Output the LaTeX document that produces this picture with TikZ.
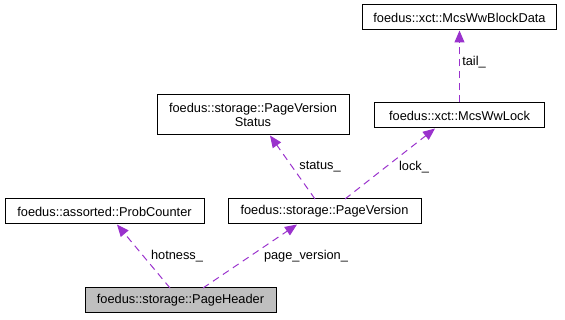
\documentclass[tikz,border=0pt]{standalone}
\usepackage{fontspec}
\setmainfont{Liberation Sans}
\usetikzlibrary{arrows.meta}
\definecolor{edgepurple}{HTML}{9A32CD}
\definecolor{focusgray}{HTML}{BFBFBF}
\begin{document}
\begin{tikzpicture}[x=1pt,y=-1pt,
  cls/.style={draw=black, line width=1pt, fill=white, rectangle, inner sep=0pt,
    font=\fontsize{12.8}{14.5}\selectfont, align=center},
  usage/.style={draw=edgepurple, line width=1pt, dash pattern=on 7pt off 5pt,
    -{Triangle[length=12pt,width=10pt,fill=edgepurple]}},
  lbl/.style={font=\fontsize{12.8}{14.5}\selectfont, inner sep=0pt}]
\useasboundingbox (0,0) rectangle (565,320);
% class boxes
\node[cls, fill=focusgray, minimum width=191pt, minimum height=25pt] (hdr) at (180.5,300.5) {foedus::storage::PageHeader};
\node[cls, minimum width=199pt, minimum height=25pt] (prob) at (104.5,211.5) {foedus::assorted::ProbCounter};
\node[cls, minimum width=193pt, minimum height=25pt] (ver) at (324.5,211.5) {foedus::storage::PageVersion};
\node[cls, minimum width=192pt, minimum height=40pt] (stat) at (253,115) {foedus::storage::PageVersion\\Status};
\node[cls, minimum width=170pt, minimum height=25pt] (lock) at (459.5,115.5) {foedus::xct::McsWwLock};
\node[cls, minimum width=194pt, minimum height=25pt] (blk) at (459.5,17.5) {foedus::xct::McsWwBlockData};
% member links
\coordinate (h1) at (170,288);
\coordinate (h2) at (203,288);
\coordinate (v1) at (315,199);
\coordinate (v2) at (345,199);
\draw[usage] (h1) -- (prob.south -| 117,0);
\draw[usage] (h2) -- (ver.south -| 297,0);
\draw[usage] (v1) -- (stat.south -| 270,0);
\draw[usage] (v2) -- (lock.south -| 435,0);
\draw[usage] (lock.north) -- (blk.south);
% link labels
\node[lbl] (lh) at (177,256) {hotness\_};
\node[lbl] (lp) at (306,256) {page\_version\_};
\node[lbl] (ls) at (320,167) {status\_};
\node[lbl] (ll) at (414,167) {lock\_};
\node[lbl] (lt) at (474,62) {tail\_};
\end{tikzpicture}
\end{document}
